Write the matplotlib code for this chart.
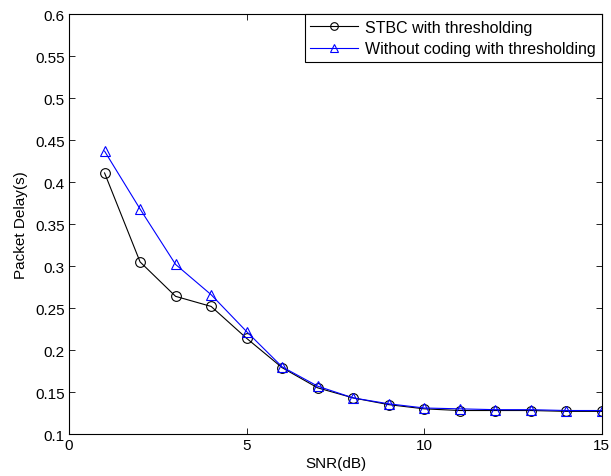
import matplotlib
matplotlib.use('Agg')
import matplotlib.pyplot as plt
import numpy as np

plt.rcParams['font.family'] = ['Liberation Sans', 'DejaVu Sans']
plt.rcParams['font.size'] = 11

snr = np.arange(1, 16)
stbc = [0.411, 0.305, 0.264, 0.252, 0.214, 0.179, 0.155, 0.143, 0.135, 0.130,
        0.128, 0.128, 0.128, 0.127, 0.127]
nocode = [0.437, 0.368, 0.302, 0.266, 0.222, 0.180, 0.157, 0.143, 0.136, 0.131,
          0.130, 0.129, 0.129, 0.128, 0.128]

fig = plt.figure(figsize=(6.11, 4.77), dpi=100)
ax = fig.add_axes([0.113, 0.088, 0.872, 0.880])
ax.plot(snr, stbc, color='k', lw=0.8, marker='o', ms=7, mfc='none', mew=0.8,
        label='STBC with thresholding')
ax.plot(snr, nocode, color='b', lw=0.8, marker='^', ms=7, mfc='none', mew=0.8,
        label='Without coding with thresholding')
ax.set_xlim(0, 15)
ax.set_ylim(0.1, 0.6)
ax.set_xticks([0, 5, 10, 15])
ax.set_yticks(np.arange(0.1, 0.601, 0.05))
ax.set_yticklabels(['0.1', '0.15', '0.2', '0.25', '0.3', '0.35', '0.4', '0.45', '0.5', '0.55', '0.6'])
ax.tick_params(direction='in', top=True, right=True, length=4, width=0.6, pad=3)
for s in ax.spines.values():
    s.set_linewidth(0.8)
ax.set_xlabel('SNR(dB)', labelpad=3)
ax.set_ylabel('Packet Delay(s)', labelpad=5)
leg = ax.legend(loc='upper right', fancybox=False, edgecolor='k', framealpha=1,
                borderaxespad=0, handlelength=3.0, handletextpad=0.45,
                labelspacing=0.4, borderpad=0.35, fontsize=11.5)
leg.get_frame().set_linewidth(0.8)
for h in leg.legend_handles:
    h.set_markersize(5.5)
fig.savefig('out.png', dpi=100)
